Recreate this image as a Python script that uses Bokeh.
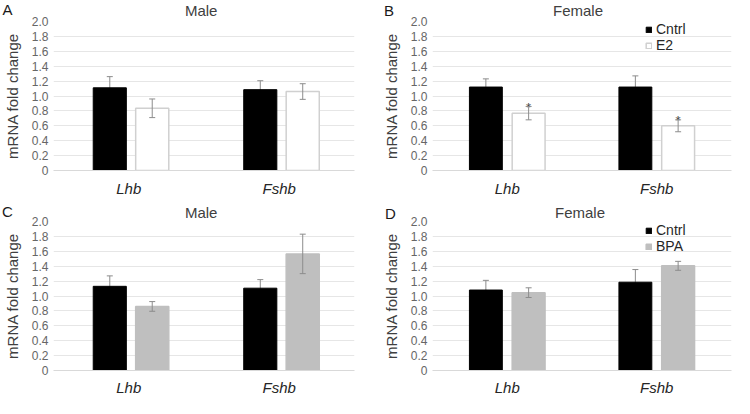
from bokeh.plotting import figure
from bokeh.models import (Range1d, FactorRange, FixedTicker, ColumnDataSource,
                          Whisker, TeeHead, Legend, LegendItem, GridBox)
from bokeh.transform import dodge
from bokeh.core.properties import value
from bokeh.embed import file_html
from bokeh.resources import INLINE

# ---------------- data ----------------
genes = ["Lhb", "Fshb"]
yticks = [0, 0.2, 0.4, 0.6, 0.8, 1.0, 1.2, 1.4, 1.6, 1.8, 2.0]
ytick_labels = ["0", "0.2", "0.4", "0.6", "0.8", "1.0", "1.2", "1.4", "1.6", "1.8", "2.0"]

# Panel A (male, E2)
a_cntrl = [1.11, 1.085]
a_cntrl_err = [0.15, 0.12]
a_e2 = [0.835, 1.06]
a_e2_err = [0.125, 0.105]

# Panel B (female, E2)
b_cntrl = [1.12, 1.12]
b_cntrl_err = [0.11, 0.15]
b_e2 = [0.77, 0.60]
b_e2_err = [0.09, 0.08]
b_sig = ["*", "*"]

# Panel C (male, BPA)
c_cntrl = [1.13, 1.105]
c_cntrl_err = [0.14, 0.115]
c_bpa = [0.86, 1.565]
c_bpa_err = [0.065, 0.265]

# Panel D (female, BPA)
d_cntrl = [1.08, 1.185]
d_cntrl_err = [0.13, 0.17]
d_bpa = [1.045, 1.405]
d_bpa_err = [0.065, 0.06]

panel_letters = ["A", "B", "C", "D"]
panel_titles = ["Male", "Female", "Male", "Female"]

FONT = "Liberation Sans"
W, H = 367, 199


def panel(ctrl, ctrl_err, trt, trt_err, trt_fill, trt_line, trt_name,
          borders, offsets, xstandoff, legend_loc=None, sig=None):
    left, right, top, bottom = borders
    p = figure(width=W, height=H, x_range=FactorRange(factors=genes),
               y_range=Range1d(0, 2.0), output_backend="svg",
               toolbar_location=None, min_border_left=left,
               min_border_right=right, min_border_top=top,
               min_border_bottom=bottom, outline_line_color=None)
    p.xgrid.grid_line_color = None
    p.ygrid.grid_line_color = "#e6e6e6"
    p.ygrid.grid_line_width = 1
    p.yaxis.ticker = FixedTicker(ticks=yticks)
    p.yaxis.major_label_overrides = {t: l for t, l in zip(yticks, ytick_labels)}
    p.yaxis.axis_line_color = None
    p.yaxis.major_tick_line_color = None
    p.yaxis.minor_tick_line_color = None
    p.yaxis.major_tick_out = 0
    p.yaxis.major_tick_in = 0
    p.yaxis.minor_tick_out = 0
    p.yaxis.major_label_text_font = FONT
    p.yaxis.major_label_text_font_size = "12px"
    p.yaxis.major_label_text_color = "#666666"
    p.yaxis.major_label_standoff = 5
    p.yaxis.axis_label = "mRNA fold change"
    p.yaxis.axis_label_text_font = FONT
    p.yaxis.axis_label_text_font_style = "normal"
    p.yaxis.axis_label_text_font_size = "15px"
    p.yaxis.axis_label_text_color = "#404040"
    p.yaxis.axis_label_standoff = 8
    p.xaxis.axis_line_color = "#d9d9d9"
    p.xaxis.major_tick_line_color = None
    p.xaxis.minor_tick_line_color = None
    p.xaxis.major_tick_out = 0
    p.xaxis.major_tick_in = 0
    p.xaxis.minor_tick_out = 0
    p.xaxis.major_label_text_font = FONT
    p.xaxis.major_label_text_font_style = "italic"
    p.xaxis.major_label_text_font_size = "15px"
    p.xaxis.major_label_text_color = "#262626"
    p.xaxis.major_label_standoff = xstandoff

    src = ColumnDataSource(dict(
        genes=genes, ctrl=ctrl,
        ctrl_up=[v + e for v, e in zip(ctrl, ctrl_err)],
        ctrl_lo=[v - e for v, e in zip(ctrl, ctrl_err)],
        trt=trt,
        trt_up=[v + e for v, e in zip(trt, trt_err)],
        trt_lo=[v - e for v, e in zip(trt, trt_err)],
    ))
    off_c, off_t = offsets
    bw = 0.22

    w1 = Whisker(source=src, base=dodge("genes", off_c, range=p.x_range),
                 upper="ctrl_up", lower="ctrl_lo", line_color="#8c8c8c",
                 line_width=1, level="underlay",
                 upper_head=TeeHead(size=6, line_color="#8c8c8c", line_width=1),
                 lower_head=TeeHead(size=6, line_color="#8c8c8c", line_width=1))
    p.add_layout(w1)
    r_c = p.vbar(x=dodge("genes", off_c, range=p.x_range), top="ctrl", width=bw,
                 source=src, fill_color="black", line_color="black")
    r_t = p.vbar(x=dodge("genes", off_t, range=p.x_range), top="trt", width=bw,
                 source=src, fill_color=trt_fill, line_color=trt_line,
                 line_width=1.5)
    w2 = Whisker(source=src, base=dodge("genes", off_t, range=p.x_range),
                 upper="trt_up", lower="trt_lo", line_color="#8c8c8c",
                 line_width=1, level="annotation",
                 upper_head=TeeHead(size=6, line_color="#8c8c8c", line_width=1),
                 lower_head=TeeHead(size=6, line_color="#8c8c8c", line_width=1))
    p.add_layout(w2)

    if sig is not None:
        ssrc = ColumnDataSource(dict(genes=genes, y=src.data["trt_up"], s=sig))
        p.text(x=dodge("genes", off_t, range=p.x_range), y="y", text="s",
               source=ssrc, text_font=value(FONT), text_font_size="13px",
               text_color="#404040", text_align="center",
               text_baseline="alphabetic", y_offset=1)

    if legend_loc is not None:
        leg = Legend(items=[LegendItem(label="Cntrl", renderers=[r_c]),
                            LegendItem(label=trt_name, renderers=[r_t])],
                     location=legend_loc, background_fill_alpha=0,
                     border_line_color=None, padding=0, margin=0, spacing=0,
                     glyph_width=7, glyph_height=7, label_standoff=4,
                     label_text_font=FONT, label_text_font_size="14px",
                     label_text_color="#262626", label_height=14)
        p.add_layout(leg)
    return p


pA = panel(a_cntrl, a_cntrl_err, a_e2, a_e2_err, "white", "#d0d0d0", "E2",
           (52, 13, 21, 27), (-0.126, 0.156), 9)
pB = panel(b_cntrl, b_cntrl_err, b_e2, b_e2_err, "white", "#d0d0d0", "E2",
           (65, 2, 21, 27), (-0.143, 0.143), 9, legend_loc=(213, 117), sig=b_sig)
pC = panel(c_cntrl, c_cntrl_err, c_bpa, c_bpa_err, "#bfbfbf", "#bfbfbf", "BPA",
           (52, 13, 22, 25), (-0.126, 0.156), 8)
pD = panel(d_cntrl, d_cntrl_err, d_bpa, d_bpa_err, "#bfbfbf", "#bfbfbf", "BPA",
           (65, 3, 22, 25), (-0.143, 0.143), 8, legend_loc=(213, 116))

# transparent overlay carrying the panel letters and panel titles
ov = figure(width=2 * W, height=2 * H, x_range=Range1d(0, 2 * W),
            y_range=Range1d(2 * H, 0), output_backend="svg",
            toolbar_location=None, min_border=0, x_axis_location=None,
            y_axis_location=None, outline_line_color=None,
            background_fill_color=None, border_fill_color=None)
ov.grid.visible = False
letter_src = ColumnDataSource(dict(x=[2, W + 16.5, 1.5, W + 17.5],
                                   y=[8.6, 9.6, H + 11.5, H + 13.5],
                                   t=panel_letters))
ov.text(x="x", y="y", text="t", source=letter_src, text_font=value(FONT),
        text_font_size="15px", text_color="#1a1a1a", text_align="left",
        text_baseline="middle")
title_src = ColumnDataSource(dict(x=[200.7, W + 210.5, 200.7, W + 212.5],
                                  y=[9.5, 9.8, H + 13, H + 12.5],
                                  t=panel_titles))
ov.text(x="x", y="y", text="t", source=title_src, text_font=value(FONT),
        text_font_size="15px", text_color="#404040", text_align="center",
        text_baseline="middle")

# panels sit in the inner 2x2 cells; the overlay spans an outer 4x4 block so
# that no frame edge is shared with (and aligned to) the panels
layout = GridBox(children=[(pA, 1, 1), (pB, 1, 2), (pC, 2, 1), (pD, 2, 2),
                           (ov, 0, 0, 4, 4)])
open("out.html", "w").write(file_html(layout, INLINE))
